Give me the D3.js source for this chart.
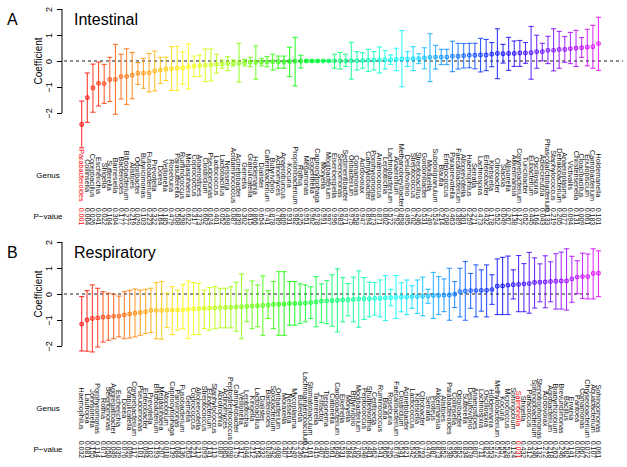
<!DOCTYPE html>
<html><head><meta charset="utf-8">
<script src="https://cdn.jsdelivr.net/npm/d3@7"></script>
<style>body{margin:0;background:#fff}svg{display:block}text{font-family:"Liberation Sans",Arial,sans-serif}</style>
</head><body><svg id="c" width="627" height="467"></svg>
<script>
// ---------- Panel A: Intestinal ----------
const genusA = ["Parabacteroides","Collinsella","Coprobacillus","Escherichia","Shigella","Sutterella","Barnesiella","Bacteroides","Bifidobacterium","Alistipes","Odoribacter","Butyricimonas","Fusobacterium","Prevotella","Dorea","Veillonella","Roseburia","Parasutterella","Ruminococcus","Megasphaera","Coprococcus","Anaerostipes","Clostridium","Pseudomonas","Lactococcus","Lactobacillus","Neisseria","Acidaminococcus","Acinetobacter","Gemella","Granulicatella","Holdemania","Dialister","Catenibacterium","Butyrivibrio","Actinomyces","Anaerotruncus","Kocuria","Propionibacterium","Rothia","Megamonas","Eggerthella","Capnocytophaga","Moryella","Mogibacterium","Eisenbergiella","Selenomonas","Sedimentibacter","Oribacterium","Comamonas","Acidovorax","Campylobacter","Porphyromonas","Anaerococcus","Leptotrichia","Lachnobacterium","Anaerofilum","Methanobrevibacter","Desulfovibrio","Streptococcus","Streptobacillus","Gordonibacter","Moraxella","Subdoligranulum","Blautia","Enterococcus","Paraprevotella","Faecalibacterium","Alloprevotella","Haemophilus","Serratia","Lachnospira","Enterobacter","Klebsiella","Citrobacter","Slackia","Allisonella","Akkermansia","Corynebacterium","Turicibacter","Eubacterium","Oscillospira","Adlercreutzia","Phascolarctobacterium","Staphylococcus","Dehalobacterium","Anaeroplasma","Victivallis","Christensenella","Cloacibacillus","Epulopiscium","Carnobacterium","Holdemanella"];
const coefA = [-2.44,-1.41,-1.04,-0.86,-0.87,-0.71,-0.71,-0.60,-0.59,-0.55,-0.47,-0.47,-0.45,-0.38,-0.35,-0.32,-0.30,-0.28,-0.27,-0.22,-0.20,-0.18,-0.17,-0.15,-0.13,-0.12,-0.09,-0.08,-0.08,-0.06,-0.05,-0.05,-0.04,-0.04,-0.03,-0.03,-0.03,-0.02,-0.01,-0.01,0.00,0.00,0.00,0.00,0.00,0.00,0.00,0.00,0.01,0.01,0.01,0.03,0.03,0.04,0.05,0.05,0.06,0.08,0.08,0.09,0.09,0.12,0.14,0.15,0.15,0.15,0.18,0.18,0.20,0.22,0.22,0.23,0.23,0.26,0.29,0.28,0.29,0.29,0.31,0.31,0.32,0.36,0.36,0.41,0.41,0.44,0.44,0.47,0.49,0.51,0.53,0.55,0.67];
const upperA = [-1.54,-0.46,-0.12,-0.04,-0.13,0.14,0.64,0.26,0.47,0.33,-0.06,0.10,0.29,0.38,0.14,0.15,0.55,0.56,0.36,0.65,0.19,0.23,0.46,0.46,0.26,0.04,0.17,0.04,0.68,0.06,0.14,0.58,0.10,0.17,0.26,0.19,0.19,0.53,0.91,0.22,0.03,0.03,0.03,0.02,0.02,0.26,0.33,0.26,0.72,0.36,0.32,0.45,0.36,0.54,0.40,0.23,0.49,1.17,0.36,0.55,0.28,0.51,1.05,0.60,0.45,0.45,0.76,0.68,0.67,0.68,0.68,0.87,0.83,0.71,1.24,0.64,0.91,0.77,0.79,0.71,1.33,0.99,0.68,0.95,1.24,1.14,0.94,1.10,1.18,0.90,1.22,1.37,1.68];
const lowerA = [-3.34,-2.36,-1.97,-1.73,-1.63,-1.56,-2.05,-1.46,-1.67,-1.45,-0.90,-1.05,-1.19,-1.15,-0.86,-0.75,-1.13,-1.14,-0.90,-1.08,-0.60,-0.59,-0.79,-0.77,-0.47,-0.28,-0.37,-0.19,-0.81,-0.19,-0.22,-0.70,-0.19,-0.22,-0.35,-0.28,-0.28,-0.60,-0.96,-0.27,-0.03,-0.03,-0.03,-0.02,-0.02,-0.28,-0.31,-0.21,-0.70,-0.35,-0.28,-0.40,-0.35,-0.46,-0.31,-0.13,-0.37,-0.99,-0.21,-0.37,-0.10,-0.30,-0.79,-0.31,-0.14,-0.14,-0.41,-0.31,-0.27,-0.26,-0.30,-0.42,-0.37,-0.22,-0.68,-0.08,-0.36,-0.21,-0.21,-0.09,-0.70,-0.28,0.01,-0.10,-0.38,-0.28,-0.05,-0.10,-0.21,0.14,-0.19,-0.28,-0.36];
const pA = ["0.001","0.004","0.026","0.041","0.022","0.104","0.304","0.177","0.277","0.219","0.029","0.103","0.223","0.322","0.164","0.185","0.479","0.508","0.398","0.622","0.317","0.373","0.602","0.624","0.401","0.052","0.498","0.087","0.839","0.302","0.615","0.866","0.654","0.741","0.878","0.789","0.809","0.931","0.982","0.925","0.951","0.962","0.978","0.991","0.997","0.996","0.983","0.971","0.975","0.958","0.947","0.894","0.873","0.871","0.802","0.572","0.792","0.898","0.495","0.702","0.246","0.531","0.749","0.524","0.214","0.208","0.463","0.389","0.301","0.259","0.271","0.473","0.432","0.178","0.552","0.049","0.267","0.138","0.127","0.052","0.445","0.164","0.043","0.133","0.219","0.205","0.077","0.094","0.131","0.009","0.061","0.183","0.101"];
const highlightA = ["Parabacteroides"];

// ---------- Panel B: Respiratory ----------
const genusB = ["Haemophilus","Lautropia","Johnsonella","Porphyromonas","Rothia","Selenomonas","Aggregatibacter","Escherichia","Dorea","Granulicatella","Corynebacterium","Pseudomonas","Enterobacter","Prevotella","Bifidobacterium","Megasphaera","Atopobium","Capnocytophaga","Parvimonas","Fusobacterium","Gemella","Coprococcus","Alloprevotella","Streptococcus","Eubacterium","Staphylococcus","Abiotrophia","Actinomyces","Peptostreptococcus","Campylobacter","Veillonella","Leptotrichia","Kingella","Lactobacillus","Dialister","Bacteroides","Solobacterium","Oribacterium","Moraxella","Neisseria","Mycoplasma","Bulleidia","Lachnoanaerobaculum","Stomatobaculum","Tannerella","Filifactor","Treponema","Catonella","Cardiobacterium","Eikenella","Moryella","Butyrivibrio","Mogibacterium","Peptococcus","Shuttleworthia","Centipeda","Ruminococcus","Blautia","Roseburia","Faecalibacterium","Clostridium","Acinetobacter","Lactococcus","Klebsiella","Citrobacter","Serratia","Proteus","Akkermansia","Alistipes","Parabacteroides","Collinsella","Odoribacter","Sutterella","Desulfovibrio","Anaerostipes","Lachnospira","Oscillospira","Holdemania","Methylobacterium","Kocuria","Micrococcus","Sphingobium","Salmonella","Shigella","Paracoccus","Sphingobacterium","Stenotrophomonas","Acidovorax","Agrobacterium","Bradyrhizobium","Brevundimonas","Bacillus","Erwinia","Pantoea","Comamonas","Chryseobacterium","Aquabacterium","Sphingomonas"];
const coefB = [-1.16,-1.00,-0.94,-0.92,-0.89,-0.88,-0.86,-0.85,-0.81,-0.77,-0.74,-0.71,-0.68,-0.63,-0.63,-0.63,-0.62,-0.62,-0.62,-0.61,-0.59,-0.58,-0.57,-0.55,-0.55,-0.54,-0.53,-0.52,-0.52,-0.50,-0.49,-0.48,-0.46,-0.45,-0.44,-0.43,-0.40,-0.39,-0.39,-0.37,-0.37,-0.36,-0.35,-0.33,-0.31,-0.28,-0.27,-0.26,-0.25,-0.23,-0.22,-0.21,-0.19,-0.18,-0.18,-0.17,-0.17,-0.15,-0.14,-0.13,-0.12,-0.12,-0.10,-0.10,-0.09,-0.08,-0.06,-0.06,-0.05,-0.04,-0.01,0.09,0.12,0.13,0.13,0.14,0.14,0.17,0.30,0.31,0.34,0.36,0.37,0.39,0.40,0.44,0.45,0.46,0.48,0.49,0.50,0.50,0.58,0.65,0.67,0.67,0.79,0.80];
const upperB = [-0.10,0.13,0.35,0.22,0.09,0.03,-0.01,-0.08,0.09,0.14,0.19,0.15,0.18,0.22,0.44,0.48,0.03,0.28,0.15,0.37,0.50,0.44,0.41,0.15,0.25,0.28,0.22,0.22,0.28,0.45,0.77,0.15,0.50,0.35,0.70,0.13,0.48,0.86,0.86,0.48,0.48,0.39,0.35,0.28,0.67,0.39,0.52,0.74,0.97,0.63,0.40,0.65,0.89,0.63,0.46,0.44,0.54,0.71,0.18,0.71,0.43,0.54,0.32,0.54,0.65,0.18,0.83,0.67,0.58,0.99,0.48,0.99,1.25,0.79,1.12,0.93,1.12,0.74,1.35,1.41,1.46,0.93,1.48,1.17,1.60,1.39,1.16,1.47,1.24,1.55,1.61,1.74,1.45,1.28,1.57,1.54,1.74,1.66];
const lowerB = [-2.19,-2.20,-2.23,-2.04,-1.85,-1.78,-1.72,-1.65,-1.72,-1.69,-1.65,-1.59,-1.52,-1.48,-1.72,-1.74,-1.29,-1.56,-1.39,-1.33,-1.72,-1.56,-1.56,-1.33,-1.39,-1.33,-1.30,-1.30,-1.30,-1.43,-1.72,-1.07,-1.33,-1.26,-1.59,-0.94,-1.33,-1.59,-1.59,-1.20,-1.20,-1.14,-1.07,-0.94,-1.26,-1.10,-1.14,-1.24,-1.46,-1.07,-0.84,-1.07,-1.28,-0.98,-0.88,-0.81,-0.88,-1.02,-0.45,-0.94,-0.68,-0.79,-0.55,-0.75,-0.84,-0.36,-0.94,-0.79,-0.68,-1.01,-0.52,-0.88,-1.01,-0.55,-0.88,-0.66,-0.88,-0.40,-0.79,-0.79,-0.79,-0.19,-0.68,-0.68,-0.74,-0.54,-0.30,-0.53,-0.30,-0.58,-0.58,-0.62,-0.32,0.01,-0.17,-0.19,-0.19,-0.10];
const pB = ["0.032","0.081","0.155","0.114","0.071","0.058","0.049","0.039","0.076","0.099","0.117","0.101","0.094","0.102","0.193","0.207","0.018","0.139","0.084","0.136","0.263","0.221","0.213","0.093","0.141","0.113","0.087","0.085","0.098","0.175","0.317","0.044","0.212","0.154","0.332","0.028","0.242","0.408","0.407","0.251","0.249","0.236","0.214","0.161","0.415","0.407","0.483","0.561","0.645","0.531","0.384","0.594","0.705","0.548","0.481","0.462","0.541","0.665","0.295","0.676","0.541","0.621","0.542","0.655","0.793","0.476","0.887","0.873","0.852","0.938","0.962","0.852","0.834","0.678","0.807","0.711","0.822","0.553","0.572","0.557","0.528","0.124","0.031","0.432","0.412","0.246","0.132","0.272","0.218","0.263","0.246","0.282","0.141","0.052","0.067","0.072","0.107","0.061"];
const highlightB = ["Salmonella"];

const yTicks = [-2,-1,0,1,2];

const svg = d3.select("#c");

function panel(cfg){
  const {letter,title,genus,coef,upper,lower,pvals,highlight,top,dashEnd} = cfg;
  const n = genus.length;
  const x = d3.scaleLinear().domain([1,n]).range([81.7,598.5]);
  const y = d3.scaleLinear().domain([-2,2]).range([top+104,top]);
  const color = d3.scaleLinear().domain([0,n-1]).range([0,295]);
  const col = i => d3.hsl(color(i),1,0.5).formatHex();
  const g = svg.append("g");

  // axis
  const ax = d3.axisLeft(y).tickValues(yTicks).tickSize(5).tickFormat(d3.format("d"));
  const ag = g.append("g").attr("transform","translate(62,0)").call(ax);
  ag.select(".domain").attr("d",`M0,${y(-2)}V${y(2)}`).attr("stroke","#000");
  ag.selectAll(".tick line").attr("stroke","#000");
  ag.selectAll(".tick text").attr("font-size",9).attr("font-family","Liberation Sans, Arial")
    .attr("text-anchor","middle").attr("x",null).attr("dy",null)
    .attr("transform","translate(-13,0) rotate(-90)").attr("dominant-baseline","central").attr("fill","#000");

  g.append("text").attr("transform",`translate(38,${y(0)}) rotate(-90)`).attr("text-anchor","middle")
    .attr("dominant-baseline","central").attr("font-size",10).text("Coefficient");
  g.append("text").attr("x",7).attr("y",top+16).attr("font-size",16).text(letter);
  g.append("text").attr("x",74).attr("y",top+16).attr("font-size",16).text(title);

  // dashed zero line
  g.append("line").attr("x1",64).attr("x2",dashEnd).attr("y1",y(0)).attr("y2",y(0))
    .attr("stroke","#000").attr("stroke-width",0.9).attr("stroke-dasharray","3,3");

  const idx = d3.range(n);
  const bars = g.append("g").selectAll("g").data(idx).join("g")
    .attr("stroke",i=>col(i)).attr("stroke-opacity",0.8).attr("fill","none").attr("stroke-width",1.1);
  bars.append("line").attr("x1",i=>x(i+1)).attr("x2",i=>x(i+1)).attr("y1",i=>y(lower[i])).attr("y2",i=>y(upper[i]));
  bars.append("line").attr("x1",i=>x(i+1)-2.6).attr("x2",i=>x(i+1)+2.6).attr("y1",i=>y(upper[i])).attr("y2",i=>y(upper[i]));
  bars.append("line").attr("x1",i=>x(i+1)-2.6).attr("x2",i=>x(i+1)+2.6).attr("y1",i=>y(lower[i])).attr("y2",i=>y(lower[i]));
  bars.append("circle").attr("cx",i=>x(i+1)).attr("cy",i=>y(coef[i])).attr("r",1.9)
    .attr("fill",i=>col(i)).attr("fill-opacity",0.3);

  // labels
  const gy = top + 166.5, py = top + 207.5;
  g.append("text").attr("x",48).attr("y",gy).attr("text-anchor","middle").attr("dominant-baseline","central")
    .attr("font-size",8).text("Genus");
  g.append("text").attr("x",48).attr("y",py).attr("text-anchor","middle").attr("dominant-baseline","central")
    .attr("font-size",8).text("P\u2212value");
  const isHi = i => highlight.includes(genus[i]);
  g.append("g").selectAll("text").data(idx).join("text")
    .attr("transform",i=>`translate(${x(i+1)},${gy}) rotate(90)`)
    .attr("text-anchor","middle").attr("dominant-baseline","central").attr("font-size",7.2)
    .attr("fill",i=>isHi(i)?"#ff0000":"#111").text(i=>genus[i]);
  g.append("g").selectAll("text").data(idx).join("text")
    .attr("transform",i=>`translate(${x(i+1)},${py}) rotate(90)`)
    .attr("text-anchor","middle").attr("dominant-baseline","central").attr("font-size",7)
    .attr("fill",i=>isHi(i)?"#ff0000":"#111").text(i=>pvals[i]);
}

panel({letter:"A",title:"Intestinal",genus:genusA,coef:coefA,upper:upperA,lower:lowerA,pvals:pA,highlight:highlightA,top:9,dashEnd:623});
panel({letter:"B",title:"Respiratory",genus:genusB,coef:coefB,upper:upperB,lower:lowerB,pvals:pB,highlight:highlightB,top:242,dashEnd:592});
</script></body></html>
